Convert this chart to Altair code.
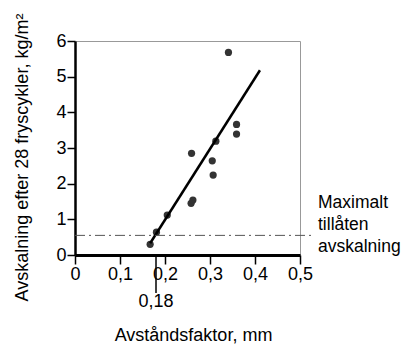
import altair as alt
import pandas as pd

# Measured scaling after 28 freeze-thaw cycles vs. air-void spacing factor
spacing_mm = [0.167, 0.181, 0.205, 0.258, 0.262, 0.259, 0.305, 0.307, 0.313, 0.359, 0.359, 0.341]
scaling_kg_m2 = [0.30, 0.64, 1.12, 1.45, 1.54, 2.85, 2.64, 2.24, 3.19, 3.66, 3.39, 5.68]

# Fitted trend line end points
fit_x = [0.167, 0.411]
fit_y = [0.33, 5.18]

# Maximum permitted scaling level and the critical spacing factor
limit_scaling = 0.55
critical_spacing = 0.18
limit_label = "Maximalt\ntillåten\navskalning"

x_ticks = [0, 0.1, 0.2, 0.3, 0.4, 0.5]
y_ticks = [0, 1, 2, 3, 4, 5, 6]

FONT = "Liberation Sans"

points = pd.DataFrame({"x": spacing_mm, "y": scaling_kg_m2})
fit = pd.DataFrame({"x": fit_x, "y": fit_y})

x_scale = alt.Scale(domain=[0, 0.5], nice=False, zero=True)
y_scale = alt.Scale(domain=[0, 6], nice=False)

x_axis = alt.Axis(
    values=x_ticks,
    labelExpr="datum.value == 0 ? '0' : replace(format(datum.value, '.1f'), '.', ',')",
    tickSize=9, tickWidth=1.5, tickColor="black",
    domainWidth=3, domainColor="black",
    labelFontSize=18, labelPadding=1, labelColor="black", labelFont=FONT,
    labelFlush=False, labelOverlap=False,
    grid=False,
    title="Avståndsfaktor, mm", titleFontSize=18, titleFontWeight="normal",
    titleFont=FONT, titleColor="black",
    titleX=118, titleY=80, titleAlign="center", titleBaseline="middle",
)
y_axis = alt.Axis(
    values=y_ticks,
    tickSize=8, tickWidth=1.5, tickColor="black",
    domainWidth=2.5, domainColor="black",
    labelFontSize=18, labelPadding=1, labelColor="black", labelFont=FONT,
    labelFlush=False, labelOverlap=False,
    grid=False,
    title="Avskalning efter 28 fryscykler, kg/m²", titleFontSize=18,
    titleFontWeight="normal", titleFont=FONT, titleColor="black",
    titleAngle=270, titleX=-53, titleY=116, titleAlign="center", titleBaseline="middle",
)


def xq(field="x"):
    return alt.X(f"{field}:Q", scale=x_scale, axis=x_axis)


def yq(field="y"):
    return alt.Y(f"{field}:Q", scale=y_scale, axis=y_axis)


dots = alt.Chart(points).mark_circle(size=52, color="#333333", opacity=1).encode(
    x=xq(), y=yq()
)

trend = alt.Chart(fit).mark_line(color="black", strokeWidth=2.5).encode(
    x=xq(), y=yq()
)

limit_line = alt.Chart(
    pd.DataFrame({"x": [0.0], "x2": [0.527], "y": [limit_scaling]})
).mark_rule(color="#555555", strokeWidth=1, strokeDash=[10, 4, 2, 4]).encode(
    x=xq(), x2="x2:Q", y=yq()
)

crit_tick = alt.Chart(pd.DataFrame({"x": [critical_spacing]})).mark_rule(
    color="black", strokeWidth=1.5
).encode(
    x=xq(),
    y=alt.value(215),
    y2=alt.value(252),
)

crit_label = alt.Chart(pd.DataFrame({"x": [critical_spacing]})).mark_text(
    font=FONT, fontSize=18, color="black", baseline="middle", align="center"
).encode(
    x=xq(),
    y=alt.value(261),
    text=alt.value("0,18"),
)

limit_text = alt.Chart(pd.DataFrame({"t": [limit_label]})).mark_text(
    font=FONT, fontSize=17.5, color="black", align="left", baseline="middle",
    lineBreak="\n", lineHeight=22
).encode(
    x=alt.value(243),
    y=alt.value(162),
    text="t:N",
)

chart = alt.layer(dots, trend, limit_line, crit_tick, crit_label, limit_text).properties(
    width=225,
    height=214,
    autosize=alt.AutoSizeParams(type="none"),
    padding={"left": 75, "top": 41, "right": 106, "bottom": 94},
    background="white",
).configure_view(stroke="#999999", strokeWidth=1)

chart.save("out.html", embed_options={"renderer": "svg", "actions": False})
